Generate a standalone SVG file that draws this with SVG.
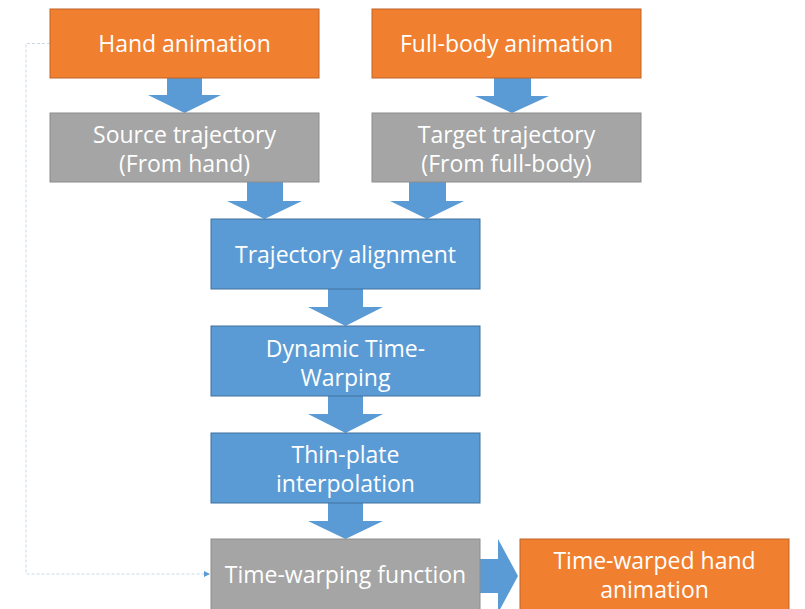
<svg xmlns="http://www.w3.org/2000/svg" width="805" height="609" viewBox="0 0 805 609">
<defs>
<style>
.orange{fill:#F07F2F;stroke:#C0642A;stroke-width:1}
.gray{fill:#A5A5A5;stroke:#8C8C8C;stroke-width:1}
.blue{fill:#5B9BD5;stroke:#41719C;stroke-width:1}
.arr{fill:#5B9BD5;stroke:none}
text{font-family:"Open Sans","Noto Sans",sans-serif;font-size:23px;fill:#FFFFFF;text-anchor:middle}
.dash{fill:none;stroke:#C9D9E8;stroke-width:1;stroke-dasharray:3,2}
</style>
<marker id="ah" markerWidth="6" markerHeight="6" refX="5" refY="3" orient="auto" markerUnits="userSpaceOnUse">
<path d="M0,0 L6,3 L0,6 z" fill="#5B9BD5"/>
</marker>
</defs>
<rect width="805" height="609" fill="#FFFFFF"/>
<g id="connectors">
<path class="arr" d="M167,78 H202 V95 H221 L184.5,113 L148,95 H167 Z"/>
<path class="arr" d="M494,78 H531 V96 H549 L512,113 L475,96 H494 Z"/>
<path class="arr" d="M247,182 H283 V201 H302 L264.5,219 L227,201 H247 Z"/>
<path class="arr" d="M409,182 H446 V201 H464 L427,219 L390,201 H409 Z"/>
<path class="arr" d="M328,289 H363 V307 H383 L345.5,326 L308,307 H328 Z"/>
<path class="arr" d="M328,396 H363 V414 H383 L345.5,433 L308,414 H328 Z"/>
<path class="arr" d="M328,503 H363 V521 H383 L345.5,539 L308,521 H328 Z"/>
<path class="arr" d="M480,559 H498 V539 L518,576 L498,613 V593 H480 Z"/>
<path class="dash" d="M50,43.5 H26 V574 H209" marker-end="url(#ah)"/>
</g>
<g id="hand-animation">
<rect class="orange" x="50" y="9" width="269" height="69"/>
<text x="184.5" y="52">Hand animation</text>
</g>
<g id="full-body-animation">
<rect class="orange" x="372" y="9" width="269" height="69"/>
<text x="506.5" y="52">Full-body animation</text>
</g>
<g id="source-trajectory">
<rect class="gray" x="50" y="113" width="269" height="69"/>
<text x="184.5" y="143">Source trajectory</text>
<text x="184.5" y="172">(From hand)</text>
</g>
<g id="target-trajectory">
<rect class="gray" x="372" y="113" width="269" height="69"/>
<text x="506.5" y="143">Target trajectory</text>
<text x="506.5" y="172">(From full-body)</text>
</g>
<g id="trajectory-alignment">
<rect class="blue" x="211" y="219" width="269" height="70"/>
<text x="345.5" y="263">Trajectory alignment</text>
</g>
<g id="dynamic-time-warping">
<rect class="blue" x="211" y="326" width="269" height="70"/>
<text x="345.5" y="357">Dynamic Time-</text>
<text x="345.5" y="386">Warping</text>
</g>
<g id="thin-plate-interpolation">
<rect class="blue" x="211" y="433" width="269" height="70"/>
<text x="345.5" y="463">Thin-plate</text>
<text x="345.5" y="492">interpolation</text>
</g>
<g id="time-warping-function">
<rect class="gray" x="211" y="539" width="269" height="72"/>
<text x="345.5" y="583">Time-warping function</text>
</g>
<g id="time-warped-hand-animation">
<rect class="orange" x="520" y="539" width="269" height="72"/>
<text x="654.5" y="569">Time-warped hand</text>
<text x="654.5" y="598">animation</text>
</g>
</svg>
